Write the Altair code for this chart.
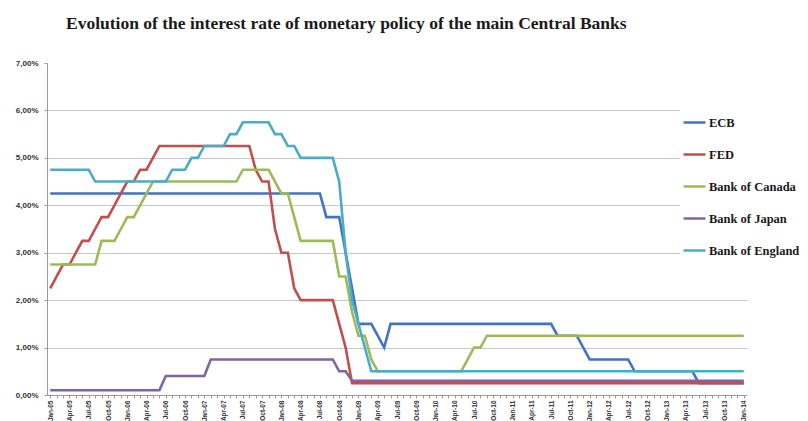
import altair as alt
import pandas as pd

# Monthly policy rates (%), Jan-05 .. Jan-14, one row per year
months = [f"{m}-{y:02d}" for y in range(5, 14) for m in
          ["Jan", "Feb", "Mar", "Apr", "May", "Jun", "Jul", "Aug", "Sep", "Oct", "Nov", "Dec"]] + ["Jan-14"]

ecb = [
    4.25, 4.25, 4.25, 4.25, 4.25, 4.25, 4.25, 4.25, 4.25, 4.25, 4.25, 4.25,
    4.25, 4.25, 4.25, 4.25, 4.25, 4.25, 4.25, 4.25, 4.25, 4.25, 4.25, 4.25,
    4.25, 4.25, 4.25, 4.25, 4.25, 4.25, 4.25, 4.25, 4.25, 4.25, 4.25, 4.25,
    4.25, 4.25, 4.25, 4.25, 4.25, 4.25, 4.25, 3.75, 3.75, 3.75, 3.00, 2.25,
    1.50, 1.50, 1.50, 1.25, 1.00, 1.50, 1.50, 1.50, 1.50, 1.50, 1.50, 1.50,
    1.50, 1.50, 1.50, 1.50, 1.50, 1.50, 1.50, 1.50, 1.50, 1.50, 1.50, 1.50,
    1.50, 1.50, 1.50, 1.50, 1.50, 1.50, 1.50, 1.25, 1.25, 1.25, 1.25, 1.00,
    0.75, 0.75, 0.75, 0.75, 0.75, 0.75, 0.75, 0.50, 0.50, 0.50, 0.50, 0.50,
    0.50, 0.50, 0.50, 0.50, 0.50, 0.25, 0.25, 0.25, 0.25, 0.25, 0.25, 0.25,
    0.25,
]
fed = [
    2.25, 2.50, 2.75, 2.75, 3.00, 3.25, 3.25, 3.50, 3.75, 3.75, 4.00, 4.25,
    4.50, 4.50, 4.75, 4.75, 5.00, 5.25, 5.25, 5.25, 5.25, 5.25, 5.25, 5.25,
    5.25, 5.25, 5.25, 5.25, 5.25, 5.25, 5.25, 5.25, 4.75, 4.50, 4.50, 3.50,
    3.00, 3.00, 2.25, 2.00, 2.00, 2.00, 2.00, 2.00, 2.00, 1.50, 1.00, 0.25,
    0.25, 0.25, 0.25, 0.25, 0.25, 0.25, 0.25, 0.25, 0.25, 0.25, 0.25, 0.25,
    0.25, 0.25, 0.25, 0.25, 0.25, 0.25, 0.25, 0.25, 0.25, 0.25, 0.25, 0.25,
    0.25, 0.25, 0.25, 0.25, 0.25, 0.25, 0.25, 0.25, 0.25, 0.25, 0.25, 0.25,
    0.25, 0.25, 0.25, 0.25, 0.25, 0.25, 0.25, 0.25, 0.25, 0.25, 0.25, 0.25,
    0.25, 0.25, 0.25, 0.25, 0.25, 0.25, 0.25, 0.25, 0.25, 0.25, 0.25, 0.25,
    0.25,
]
canada = [
    2.75, 2.75, 2.75, 2.75, 2.75, 2.75, 2.75, 2.75, 3.25, 3.25, 3.25, 3.50,
    3.75, 3.75, 4.00, 4.25, 4.50, 4.50, 4.50, 4.50, 4.50, 4.50, 4.50, 4.50,
    4.50, 4.50, 4.50, 4.50, 4.50, 4.50, 4.75, 4.75, 4.75, 4.75, 4.75, 4.50,
    4.25, 4.25, 3.75, 3.25, 3.25, 3.25, 3.25, 3.25, 3.25, 2.50, 2.50, 1.75,
    1.25, 1.25, 0.75, 0.50, 0.50, 0.50, 0.50, 0.50, 0.50, 0.50, 0.50, 0.50,
    0.50, 0.50, 0.50, 0.50, 0.50, 0.75, 1.00, 1.00, 1.25, 1.25, 1.25, 1.25,
    1.25, 1.25, 1.25, 1.25, 1.25, 1.25, 1.25, 1.25, 1.25, 1.25, 1.25, 1.25,
    1.25, 1.25, 1.25, 1.25, 1.25, 1.25, 1.25, 1.25, 1.25, 1.25, 1.25, 1.25,
    1.25, 1.25, 1.25, 1.25, 1.25, 1.25, 1.25, 1.25, 1.25, 1.25, 1.25, 1.25,
    1.25,
]
japan = [
    0.10, 0.10, 0.10, 0.10, 0.10, 0.10, 0.10, 0.10, 0.10, 0.10, 0.10, 0.10,
    0.10, 0.10, 0.10, 0.10, 0.10, 0.10, 0.40, 0.40, 0.40, 0.40, 0.40, 0.40,
    0.40, 0.75, 0.75, 0.75, 0.75, 0.75, 0.75, 0.75, 0.75, 0.75, 0.75, 0.75,
    0.75, 0.75, 0.75, 0.75, 0.75, 0.75, 0.75, 0.75, 0.75, 0.50, 0.50, 0.30,
    0.30, 0.30, 0.30, 0.30, 0.30, 0.30, 0.30, 0.30, 0.30, 0.30, 0.30, 0.30,
    0.30, 0.30, 0.30, 0.30, 0.30, 0.30, 0.30, 0.30, 0.30, 0.30, 0.30, 0.30,
    0.30, 0.30, 0.30, 0.30, 0.30, 0.30, 0.30, 0.30, 0.30, 0.30, 0.30, 0.30,
    0.30, 0.30, 0.30, 0.30, 0.30, 0.30, 0.30, 0.30, 0.30, 0.30, 0.30, 0.30,
    0.30, 0.30, 0.30, 0.30, 0.30, 0.30, 0.30, 0.30, 0.30, 0.30, 0.30, 0.30,
    0.30,
]
england = [
    4.75, 4.75, 4.75, 4.75, 4.75, 4.75, 4.75, 4.50, 4.50, 4.50, 4.50, 4.50,
    4.50, 4.50, 4.50, 4.50, 4.50, 4.50, 4.50, 4.75, 4.75, 4.75, 5.00, 5.00,
    5.25, 5.25, 5.25, 5.25, 5.50, 5.50, 5.75, 5.75, 5.75, 5.75, 5.75, 5.50,
    5.50, 5.25, 5.25, 5.00, 5.00, 5.00, 5.00, 5.00, 5.00, 4.50, 3.00, 2.00,
    1.50, 1.00, 0.50, 0.50, 0.50, 0.50, 0.50, 0.50, 0.50, 0.50, 0.50, 0.50,
    0.50, 0.50, 0.50, 0.50, 0.50, 0.50, 0.50, 0.50, 0.50, 0.50, 0.50, 0.50,
    0.50, 0.50, 0.50, 0.50, 0.50, 0.50, 0.50, 0.50, 0.50, 0.50, 0.50, 0.50,
    0.50, 0.50, 0.50, 0.50, 0.50, 0.50, 0.50, 0.50, 0.50, 0.50, 0.50, 0.50,
    0.50, 0.50, 0.50, 0.50, 0.50, 0.50, 0.50, 0.50, 0.50, 0.50, 0.50, 0.50,
    0.50,
]

series_names = ["ECB", "FED", "Bank of Canada", "Bank of Japan", "Bank of England"]
series_values = [ecb, fed, canada, japan, england]
series_colors = ["#4472C4", "#C0504D", "#9BBB59", "#8064A2", "#4BACC6"]
y_ticks = [0, 1, 2, 3, 4, 5, 6, 7]

rows = []
for name, vals in zip(series_names, series_values):
    for i, (m, v) in enumerate(zip(months, vals)):
        rows.append({"Month": m, "Bank": name, "Rate": v, "order": i})
df = pd.DataFrame(rows)

label_font = "Liberation Sans"

chart = alt.Chart(df).mark_line(strokeWidth=2.6).encode(
    x=alt.X(
        "Month:O",
        sort=months,
        scale=alt.Scale(paddingOuter=0.5),
        axis=alt.Axis(
            title=None,
            values=months,
            labelExpr="test(/^(Jan|Apr|Jul|Oct)/, datum.label) ? datum.label : ''",
            labelOverlap=False,
            labelAngle=270,
            labelAlign="right",
            labelBaseline="middle",
            labelFont=label_font,
            labelFontSize=6.5,
            labelFontWeight="bold",
            labelColor="#333333",
            labelPadding=2,
            tickSize=3,
            tickColor="#9a9a9a",
            domainColor="#9a9a9a",
            grid=False,
        ),
    ),
    y=alt.Y(
        "Rate:Q",
        scale=alt.Scale(domain=[0, 7], nice=False),
        axis=alt.Axis(
            title=None,
            values=y_ticks,
            labelExpr="replace(format(datum.value, '.2f'), '.', ',') + '%'",
            labelFont=label_font,
            labelFontSize=8,
            labelFontWeight="bold",
            labelColor="#333333",
            labelPadding=6,
            tickSize=3,
            tickColor="#9a9a9a",
            domainColor="#9a9a9a",
            gridColor="#c8c8c8",
            gridOpacity={"condition": {"test": "datum.value >= 7 || datum.value <= 0", "value": 0}, "value": 1},
        ),
    ),
    color=alt.Color(
        "Bank:N",
        sort=series_names,
        scale=alt.Scale(domain=series_names, range=series_colors),
        legend=alt.Legend(
            title=None,
            orient="none",
            legendX=633,
            legendY=45,
            symbolType="stroke",
            symbolSize=480,
            symbolStrokeWidth=2.5,
            labelFont="Liberation Serif",
            labelFontSize=12.5,
            labelFontWeight="bold",
            labelColor="#1a1a1a",
            labelOffset=2,
            labelLimit=0,
            rowPadding=13,
            fillColor="white",
            padding=2,
        ),
    ),
    order="order:Q",
).properties(
    width=700,
    height=332,
    autosize=alt.AutoSizeParams(type="none"),
    padding={"left": 39, "top": 55, "right": 53, "bottom": 28},
    title=alt.TitleParams(
        "Evolution of the interest rate of monetary policy of the main Central Banks",
        font="Liberation Serif",
        fontSize=17.5,
        fontWeight="bold",
        color="#1a1a1a",
        anchor="start",
        frame="group",
        dx=19,
        offset=27,
    ),
).configure_view(stroke=None)

chart.save("out.html", embed_options={"renderer": "svg", "actions": False})
